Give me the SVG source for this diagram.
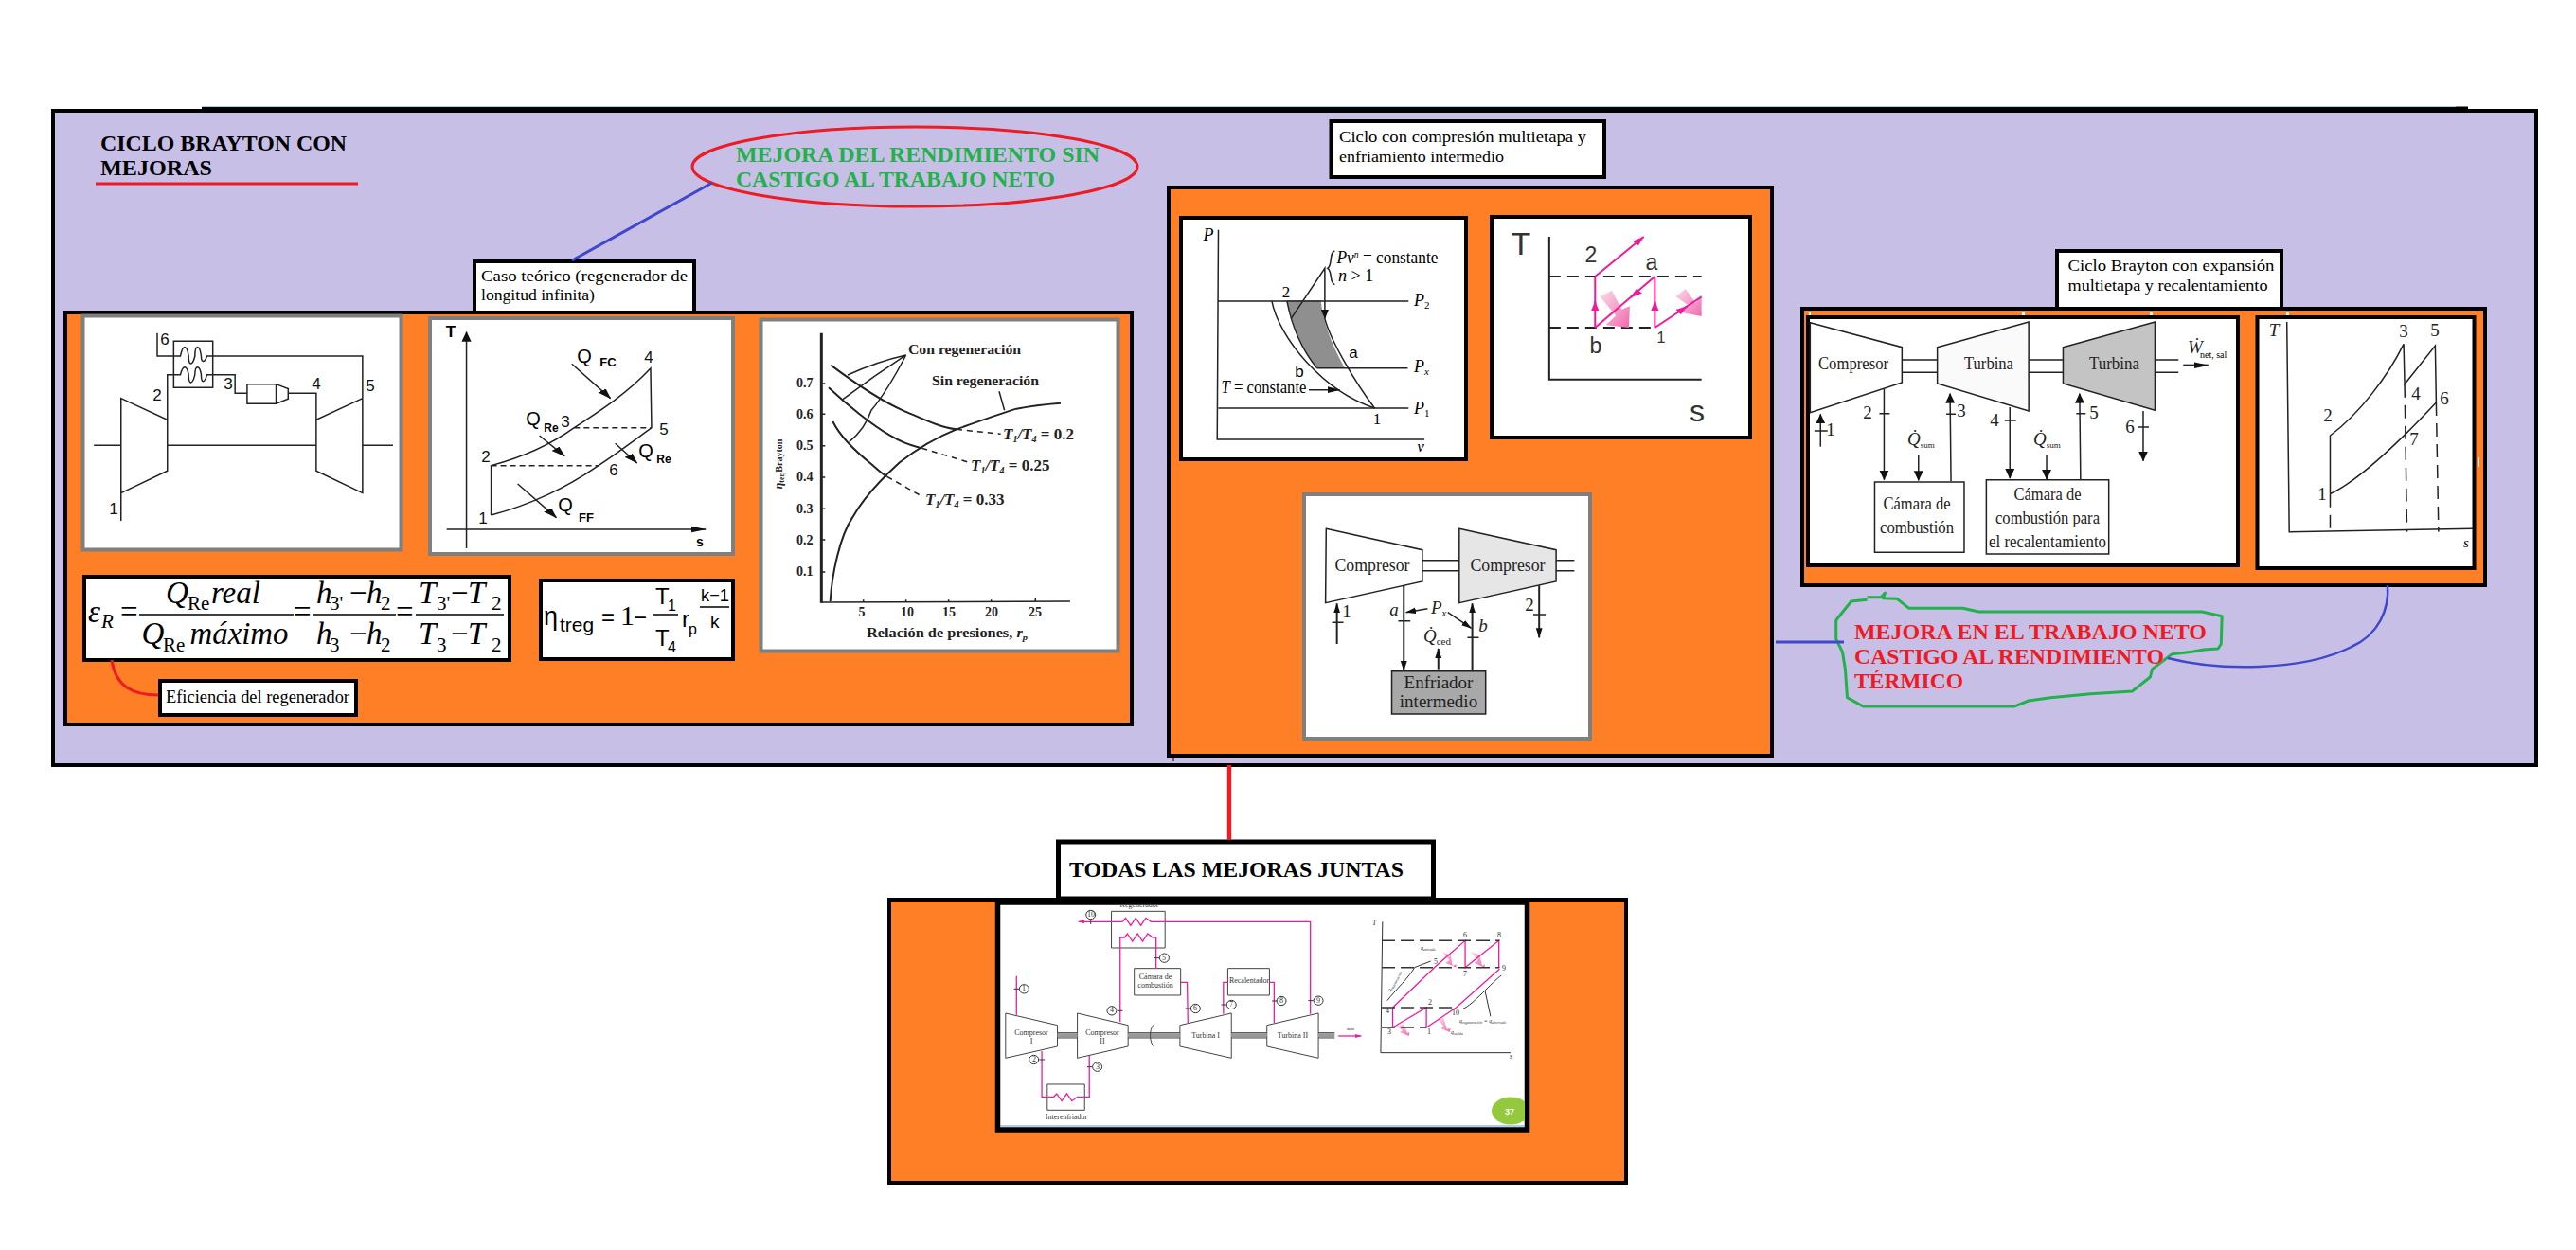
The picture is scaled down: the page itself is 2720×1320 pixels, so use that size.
<svg xmlns="http://www.w3.org/2000/svg" width="2720" height="1320" viewBox="0 0 2720 1320">
<style>
text{font-family:"Liberation Serif","Times New Roman",serif;fill:#000}
.s{font-family:"Liberation Sans",Arial,sans-serif}
.b{font-weight:bold}
.i{font-style:italic}
.l path,.l line,.l rect,.l polygon,.l polyline,.l ellipse{vector-effect:non-scaling-stroke}
.l{fill:none;stroke:#222;stroke-width:1.5}
.k{fill:#fff;stroke:#000;stroke-width:4}
.g{fill:#fff;stroke:#7f7f7f;stroke-width:4}
.o{fill:#ff7f27;stroke:#000;stroke-width:4}
.t17{font-size:17.5px}
.m{font-size:33px}
.ms{font-size:21px}
.n16{font-size:17px;fill:#111}
.c{font-size:14px;font-weight:bold;fill:#222}
.d{font-size:19px;fill:#222}
.e{font-size:8px;fill:#333}
.a{text-anchor:middle}
.dash{stroke-dasharray:14 6}
</style>
<defs>
<marker id="ar" markerUnits="userSpaceOnUse" markerWidth="34" markerHeight="24" refX="30" refY="12" orient="auto"><path d="M0,2L32,12L0,22z" fill="#111" stroke="none"/></marker>
<marker id="ap" markerUnits="userSpaceOnUse" markerWidth="34" markerHeight="24" refX="30" refY="12" orient="auto"><path d="M0,2L32,12L0,22z" fill="#ee1c9a" stroke="none"/></marker>
<marker id="as" markerUnits="userSpaceOnUse" markerWidth="18" markerHeight="14" refX="16" refY="7" orient="auto"><path d="M0,1L17,7L0,13z" fill="#ee1c9a" stroke="none"/></marker>
<linearGradient id="fade" x1="0" y1="0" x2="1" y2="1"><stop offset="0" stop-color="#fbdcea"/><stop offset="1" stop-color="#f06aae"/></linearGradient>
<clipPath id="frame"><rect x="1056" y="956" width="554" height="234"/></clipPath>
</defs>

<g id="background">
<rect x="213" y="112.500" width="2393" height="3.500" fill="#000"/>
<rect x="213" y="112" width="2380" height="1" fill="#99d9ea"/>
<rect x="56" y="117" width="2622" height="691" fill="#c8bfe7" stroke="#000" stroke-width="4"/>
</g>

<g id="title">
<text class="b" x="106" y="159" font-size="24" textLength="260" lengthAdjust="spacingAndGlyphs">CICLO BRAYTON CON</text>
<text class="b" x="106" y="185" font-size="24" textLength="118" lengthAdjust="spacingAndGlyphs">MEJORAS</text>
<line x1="101" y1="194" x2="378" y2="194" stroke="#ed1c24" stroke-width="3"/>
</g>

<g id="mejora-rendimiento">
<ellipse cx="966" cy="176" rx="235" ry="42" fill="none" stroke="#ed1c24" stroke-width="3"/>
<text class="b" x="777" y="171" font-size="24" style="fill:#22b14c" textLength="384" lengthAdjust="spacingAndGlyphs">MEJORA DEL RENDIMIENTO SIN</text>
<text class="b" x="777" y="197" font-size="24" style="fill:#22b14c" textLength="337" lengthAdjust="spacingAndGlyphs">CASTIGO AL TRABAJO NETO</text>
</g>

<g id="caso-teorico">
<rect class="k" x="501" y="276" width="232" height="60"/>
<text class="t17" x="508" y="297" textLength="218" lengthAdjust="spacingAndGlyphs">Caso teórico (regenerador de</text>
<text class="t17" x="508" y="317" textLength="120" lengthAdjust="spacingAndGlyphs">longitud infinita)</text>
<rect class="o" x="69" y="330" width="1126" height="435"/>
</g>

<g id="esquema-regenerador">
<rect class="g" x="87.500" y="333.500" width="336" height="247"/>
<g class="l" transform="translate(40,100) scale(.5102,.3333)">
<path d="M172,1350V962L268,1030V1192L172,1262M672,962L576,1030V1192L672,1262V962M116,1111H172M268,1111H576M672,1111H735"/>
<rect x="281" y="781" width="81" height="147"/>
<path d="M247,755V828H295C300,790 308,790 312,828C312,860 320,860 325,828C325,790 335,790 338,828C338,850 345,850 350,828H672V962"/>
<path d="M268,1030V887H295C300,855 308,855 312,887C312,920 320,920 325,887C325,855 335,855 338,887C338,915 345,915 350,887H408V946H433"/>
<path d="M433,917H493L518,932V964L493,979H433ZM493,917V979M518,946H576V1030"/>
</g>
<text class="s n16 a" x="174" y="364">6</text><text class="s n16 a" x="166" y="423">2</text><text class="s n16 a" x="241" y="411">3</text><text class="s n16 a" x="334" y="411">4</text><text class="s n16 a" x="391" y="413">5</text><text class="s n16 a" x="120" y="543">1</text>
</g>

<g id="diagrama-ts-regenerador">
<rect class="g" x="454" y="336" width="320" height="249"/>
<g class="l" transform="translate(40,100) scale(.5102,.3333)">
<path d="M887,1437V752" marker-end="url(#ar)"/>
<path d="M846,1377H1382" marker-end="url(#ar)"/>
<path d="M938,1332V1175C1000,1150 1060,1110 1110,1055C1170,995 1220,945 1268,867L1270,1055C1230,1100 1200,1135 1160,1175C1100,1240 1020,1300 938,1332"/>
<path d="M1110,1055H1270M938,1175H1160" stroke-dasharray="6 4"/>
<path d="M1105,853L1185,962" marker-end="url(#ar)"/>
<path d="M1038,1080L1090,1145" marker-end="url(#ar)"/>
<path d="M1195,1105L1240,1167" marker-end="url(#ar)"/>
<path d="M993,1233L1073,1340" marker-end="url(#ar)"/>
</g>
<text class="s b a" x="476" y="356" font-size="17">T</text>
<text class="s b a" x="739" y="577" font-size="14">s</text>
<text class="s a" x="617" y="383" font-size="20">Q</text><text class="s b a" x="642" y="387" font-size="13">FC</text>
<text class="s n16 a" x="685" y="383">4</text>
<text class="s a" x="563" y="449" font-size="20">Q</text><text class="s b a" x="582" y="456" font-size="12">Re</text>
<text class="s n16 a" x="597" y="451">3</text><text class="s n16 a" x="701" y="459">5</text><text class="s n16 a" x="513" y="488">2</text><text class="s n16 a" x="648" y="502">6</text>
<text class="s a" x="682" y="483" font-size="20">Q</text><text class="s b a" x="701" y="489" font-size="12">Re</text>
<text class="s a" x="597" y="540" font-size="20">Q</text><text class="s b a" x="619" y="551" font-size="13">FF</text>
<text class="s n16 a" x="510" y="553">1</text>
</g>

<g id="grafica-rendimiento">
<rect class="g" x="803.500" y="337.500" width="377" height="350"/>
<g class="l" transform="translate(780,320) scale(.3333)">
<path d="M262,95V950" stroke-width="3"/>
<path d="M262,948L1050,945M262,255h12M262,352h12M262,452h12M262,552h12M262,652h12M262,750h12M262,852h12M395,948v-8M530,948v-8M665,948v-8M800,948v-8M940,948v-12"/>
<path stroke-width="2" d="M290,945C295,860 320,740 360,680C400,610 460,550 510,505C580,450 640,420 690,400C760,375 830,350 880,335C930,325 980,320 1020,317"/>
<path stroke-width="2" d="M292,197C370,255 450,310 520,340C590,370 640,395 690,400"/>
<path stroke-width="2" d="M285,268C340,320 420,385 480,420C530,450 560,455 580,460"/>
<path stroke-width="2" d="M298,375C320,420 370,470 420,510C440,528 460,545 470,550"/>
<path stroke-dasharray="6 5" d="M690,400L830,415M580,460L730,505M470,550L585,615"/>
<path d="M530,165Q440,185 345,228M530,165Q430,230 330,305M530,165Q470,280 420,340Q400,400 350,440M825,280L842,340"/>
</g>
<text class="c" x="959" y="374" textLength="119" lengthAdjust="spacingAndGlyphs">Con regeneración</text>
<text class="c" x="984" y="407" textLength="113" lengthAdjust="spacingAndGlyphs">Sin regeneración</text>
<text class="c i" x="1059" y="464" style="font-size:17px">T<tspan font-size="10" dy="3">1</tspan><tspan dy="-3">/T</tspan><tspan font-size="10" dy="3">4</tspan><tspan dy="-3" font-style="normal"> = 0.2</tspan></text>
<text class="c i" x="1025" y="497" style="font-size:17px">T<tspan font-size="10" dy="3">1</tspan><tspan dy="-3">/T</tspan><tspan font-size="10" dy="3">4</tspan><tspan dy="-3" font-style="normal"> = 0.25</tspan></text>
<text class="c i" x="977" y="533" style="font-size:17px">T<tspan font-size="10" dy="3">1</tspan><tspan dy="-3">/T</tspan><tspan font-size="10" dy="3">4</tspan><tspan dy="-3" font-style="normal"> = 0.33</tspan></text>
<text class="c" x="841" y="409">0.7</text><text class="c" x="841" y="442">0.6</text><text class="c" x="841" y="475">0.5</text><text class="c" x="841" y="508">0.4</text><text class="c" x="841" y="542">0.3</text><text class="c" x="841" y="575">0.2</text><text class="c" x="841" y="608">0.1</text>
<text class="c a" x="910" y="651">5</text><text class="c a" x="958" y="651">10</text><text class="c a" x="1002" y="651">15</text><text class="c a" x="1047" y="651">20</text><text class="c a" x="1093" y="651">25</text>
<text class="c" x="915" y="673" textLength="170" lengthAdjust="spacingAndGlyphs">Relación de presiones, <tspan font-style="italic">r</tspan><tspan font-size="9" dy="3" font-style="italic">p</tspan></text>
<text class="c a" transform="translate(826,490) rotate(-90)" style="font-size:12px"><tspan font-style="italic">η</tspan><tspan font-size="8" dy="2">ter,</tspan><tspan dy="-2" font-size="10">Brayton</tspan></text>
</g>

<g id="formula-eficiencia">
<rect class="k" x="89" y="609" width="449" height="88"/>
<text class="m i" x="93" y="657">ε</text><text class="ms i" x="107" y="663">R</text>
<text class="m" x="127" y="657">=</text><text class="m" x="310" y="657">=</text><text class="m" x="418" y="657">=</text>
<path d="M147,649H310M331,649H418M439,649H532" stroke="#000" stroke-width="1.500"/>
<text class="m i" x="175" y="637">Q</text><text class="ms" x="198" y="644">Re</text><text class="m i" x="223" y="637">real</text>
<text class="m i" x="149.500" y="680">Q</text><text class="ms" x="172" y="688">Re</text><text class="m i" x="200.500" y="680" textLength="104" lengthAdjust="spacingAndGlyphs">máximo</text>
<text class="m i" x="334" y="637">h</text><text class="ms" x="348" y="644">3'</text><text class="m" x="369" y="637">−</text><text class="m i" x="387" y="637">h</text><text class="ms" x="402" y="644">2</text>
<text class="m i" x="334" y="680">h</text><text class="ms" x="348" y="688">3</text><text class="m" x="369" y="680">−</text><text class="m i" x="387" y="680">h</text><text class="ms" x="402" y="688">2</text>
<text class="m i" x="442" y="637">T</text><text class="ms" x="461" y="644">3'</text><text class="m" x="476" y="637">−</text><text class="m i" x="494" y="637">T</text><text class="ms" x="519" y="644">2</text>
<text class="m i" x="442" y="680">T</text><text class="ms" x="461" y="688">3</text><text class="m" x="476" y="680">−</text><text class="m i" x="494" y="680">T</text><text class="ms" x="519" y="688">2</text>
</g>

<g id="formula-rendimiento">
<rect class="k" x="571" y="613" width="203" height="83"/>
<text class="s" x="574" y="660" font-size="27">η</text><text class="s" x="591" y="667" font-size="21" textLength="36" lengthAdjust="spacingAndGlyphs">treg</text>
<text class="s" x="635" y="660" font-size="24">=</text><text x="655" y="660" style="font-size:30px">1</text><text class="s" x="669" y="660" font-size="24">−</text>
<text class="s" x="692" y="638" font-size="24">T</text><text class="s" x="705" y="645" font-size="16">1</text>
<path d="M690,649H716M739,641H770" stroke="#000" stroke-width="1.500"/>
<text class="s" x="692" y="682" font-size="24">T</text><text class="s" x="705" y="689" font-size="16">4</text>
<text class="s" x="720" y="662" font-size="24">r</text><text class="s" x="727" y="670" font-size="16">p</text>
<text class="s" x="740" y="635" font-size="19" textLength="30" lengthAdjust="spacingAndGlyphs">k−1</text><text class="s" x="750" y="663" font-size="19">k</text>
</g>

<g id="eficiencia-regenerador">
<rect class="k" x="169" y="719" width="207" height="36"/>
<text x="175" y="742" font-size="18" textLength="194" lengthAdjust="spacingAndGlyphs">Eficiencia del regenerador</text>
</g>

<g id="ciclo-compresion">
<rect class="k" x="1405.500" y="128" width="288.500" height="59"/>
<text class="t17" x="1414" y="150" textLength="261" lengthAdjust="spacingAndGlyphs">Ciclo con compresión multietapa y</text>
<text class="t17" x="1414" y="171" textLength="174" lengthAdjust="spacingAndGlyphs">enfriamiento intermedio</text>
<rect class="o" x="1234" y="198" width="637" height="600"/>
</g>

<g id="diagrama-pv">
<rect class="k" x="1247" y="230" width="301" height="255"/>
<g class="l" transform="translate(1220,110) scale(.4209,.3333)">
<path fill="#8f8f8f" stroke="none" d="M330,622L415,622C420,690 445,770 475,836L405,836C365,770 345,700 330,622Z"/>
<path d="M158,398L155,1062H675M158,624H635M405,836H633M158,963H635"/>
<path d="M292,624C310,740 420,910 550,963"/>
<path d="M425,680C440,750 500,880 550,963M330,624C345,720 375,790 405,836"/>
<path d="M340,680L425,520V680" marker-end="url(#ar)"/>
<path d="M385,905H462" marker-end="url(#ar)"/>
<path d="M450,465C435,470 445,510 432,520C445,530 435,565 450,572"/>
</g>
<text class="i" x="1276" y="254" font-size="18" text-anchor="middle">P</text>
<text x="1411.500" y="278" font-size="18" textLength="107" lengthAdjust="spacingAndGlyphs"><tspan font-style="italic">Pv</tspan><tspan font-size="10" dy="-6" font-style="italic">n</tspan><tspan dy="6"> = constante</tspan></text>
<text x="1413" y="297" font-size="18"><tspan font-style="italic">n</tspan> &gt; 1</text>
<text class="a" x="1358" y="314" font-size="17">2</text>
<text class="i" x="1493" y="323" font-size="18">P<tspan font-size="11" dy="3" font-style="normal">2</tspan></text>
<text class="i" x="1493" y="393" font-size="18">P<tspan font-size="11" dy="3">x</tspan></text>
<text class="i" x="1493" y="437" font-size="18">P<tspan font-size="11" dy="3" font-style="normal">1</tspan></text>
<text class="s a" x="1429" y="378" font-size="17">a</text><text class="s a" x="1372" y="398" font-size="17">b</text>
<text x="1289.500" y="415" font-size="18" textLength="90" lengthAdjust="spacingAndGlyphs"><tspan font-style="italic">T</tspan> = constante</text>
<text class="a" x="1454" y="448" font-size="17">1</text><text class="i a" x="1500" y="477" font-size="17">v</text>
</g>

<g id="diagrama-ts-compresion">
<rect class="k" x="1575" y="229" width="273" height="233"/>
<g class="l" transform="translate(1220,110) scale(.4209,.3333)">
<path d="M988,420V872H1370" stroke-width="2"/>
<path d="M988,546H1370M988,708H1253" stroke-width="2" stroke-dasharray="12 7"/>
<polygon fill="url(#fade)" stroke="none" points="1115,610 1145,590 1170,650 1190,640 1188,708 1130,700 1155,670"/>
<polygon fill="url(#fade)" stroke="none" points="1305,610 1330,585 1355,630 1370,605 1370,672 1320,660 1340,640"/>
<g style="stroke:#ee1c9a;stroke-width:2">
<path d="M1103,708V546"/><path d="M1253,708V546"/>
<path d="M1103,546L1225,420" marker-end="url(#ap)"/>
<path d="M1253,546L1103,708"/><path d="M1253,708L1370,610"/>
<path d="M1103,650V625" marker-end="url(#ap)"/><path d="M1253,650V625" marker-end="url(#ap)"/>
<path d="M1205,600L1192,612" marker-end="url(#ap)"/><path d="M1310,660L1335,640" marker-end="url(#ap)"/>
</g>
</g>
<text class="s a" x="1606" y="269" font-size="34" style="fill:#333">T</text>
<text class="s a" x="1680" y="277" font-size="23" style="fill:#333">2</text>
<text class="s a" x="1744" y="285" font-size="23" style="fill:#333">a</text>
<text class="s a" x="1685" y="373" font-size="23" style="fill:#333">b</text>
<text class="s a" x="1754" y="362" font-size="16" style="fill:#333">1</text>
<text class="s a" x="1792" y="445" font-size="32" style="fill:#333">s</text>
</g>

<g id="esquema-compresores">
<rect class="g" x="1377" y="522" width="302" height="258"/>
<g class="l" transform="translate(1360,500) scale(.3444,.3333)">
<polygon fill="#fff" points="117,175 412,242 412,342 115,410"/>
<polygon fill="#e6e6e6" points="525,175 822,242 822,342 525,410"/>
<path d="M412,275H525M412,308H525M822,275H878M822,308H878"/>
<path stroke-width="2" d="M150,540V412" marker-end="url(#ar)"/><path d="M135,472H170M338,467H375M550,520H585M752,447H790"/>
<path stroke-width="2" d="M355,355V624" marker-end="url(#ar)"/>
<path stroke-width="2" d="M565,625V412" marker-end="url(#ar)"/>
<path stroke-width="2" d="M770,355V520" marker-end="url(#ar)"/>
<path stroke-width="2" d="M461,620V555" marker-end="url(#ar)"/>
<path d="M428,428L362,440" marker-end="url(#ar)"/>
<path d="M490,440L562,490" marker-end="url(#ar)"/>
<rect x="318" y="626" width="288" height="136" fill="#a8a8a8"/>
</g>
<text class="d a" x="1449" y="603" textLength="79" lengthAdjust="spacingAndGlyphs">Compresor</text>
<text class="d a" x="1592" y="603" textLength="79" lengthAdjust="spacingAndGlyphs">Compresor</text>
<text class="d a" x="1422" y="652">1</text><text class="d i a" x="1472" y="650">a</text>
<text class="d i" x="1511" y="648">P<tspan font-size="11" dy="3">x</tspan></text>
<text class="d i a" x="1566" y="667">b</text><text class="d a" x="1615" y="645">2</text>
<text class="d i" x="1503" y="678">Q̇<tspan font-size="11" dy="3" font-style="normal">ced</tspan></text>
<text class="d a" x="1519" y="727">Enfriador</text><text class="d a" x="1519" y="747">intermedio</text>
</g>

<g id="ciclo-expansion">
<rect class="k" x="2172" y="265" width="237" height="62"/>
<text class="t17" x="2183.500" y="286" textLength="218" lengthAdjust="spacingAndGlyphs">Ciclo Brayton con expansión</text>
<text class="t17" x="2183.500" y="307" textLength="211" lengthAdjust="spacingAndGlyphs">multietapa y recalentamiento</text>
<rect class="o" x="1903" y="326" width="721" height="292"/>
<path d="M1910,330h2v3h-2zM2135,330h3v3h-3zM2270,330h3v3h-3zM2414,330h3v3h-3z" fill="#fff"/>
<path d="M2617,483v10" stroke="#fff" stroke-width="1.500"/>
</g>

<g id="esquema-turbinas">
<rect class="k" x="1909" y="335" width="454" height="262"/>
<g class="l" transform="translate(1880,250) scale(.4974,.3333)">
<polygon fill="#fff" points="63,272 258,350 258,462 63,557"/>
<polygon fill="#fafafa" points="333,350 527,270 527,552 333,465"/>
<polygon fill="#c4c4c4" points="600,350 795,270 795,550 600,465"/>
<path d="M258,390H333M258,430H333M527,390H600M527,430H600M795,390H845M795,430H845"/>
<path stroke-width="2" d="M855,407H908" marker-end="url(#ar)"/>
<path d="M85,665V562" marker-end="url(#ar)"/><path d="M220,482V770" marker-end="url(#ar)"/><path d="M293,690V772" marker-end="url(#ar)"/>
<path d="M362,775L360,497" marker-end="url(#ar)"/><path d="M487,540V765" marker-end="url(#ar)"/><path d="M565,690V768" marker-end="url(#ar)"/>
<path d="M637,768L635,497" marker-end="url(#ar)"/><path d="M770,552V710" marker-end="url(#ar)"/>
<path d="M72,615H100M210,560H232M352,562H372M476,582H500M628,560H648M758,603H782"/>
<rect x="200" y="777" width="190" height="223"/><rect x="437" y="770" width="260" height="235"/>
</g>
<text class="d" x="1920" y="390" textLength="74" lengthAdjust="spacingAndGlyphs">Compresor</text>
<text class="d" x="2074" y="390" textLength="52" lengthAdjust="spacingAndGlyphs">Turbina</text>
<text class="d" x="2206" y="390" textLength="53" lengthAdjust="spacingAndGlyphs">Turbina</text>
<text class="d i" x="2310" y="373">Ẇ</text><text x="2323" y="378" font-size="10">net, sal</text>
<text class="d a" x="1933" y="460">1</text><text class="d a" x="1972" y="442">2</text><text class="d a" x="2071" y="440">3</text><text class="d a" x="2106" y="450">4</text><text class="d a" x="2211" y="442">5</text><text class="d a" x="2249" y="457">6</text>
<text class="d i" x="2014" y="470">Q̇<tspan font-size="9" dy="3" font-style="normal">sum</tspan></text>
<text class="d i" x="2147" y="470">Q̇<tspan font-size="9" dy="3" font-style="normal">sum</tspan></text>
<text class="d a" x="2024" y="538" textLength="71" lengthAdjust="spacingAndGlyphs">Cámara de</text><text class="d a" x="2024" y="563" textLength="78" lengthAdjust="spacingAndGlyphs">combustión</text>
<text class="d a" x="2162" y="528" textLength="71" lengthAdjust="spacingAndGlyphs">Cámara de</text><text class="d a" x="2162" y="553" textLength="110" lengthAdjust="spacingAndGlyphs">combustión para</text><text class="d a" x="2162" y="578" textLength="124" lengthAdjust="spacingAndGlyphs">el recalentamiento</text>
</g>

<g id="diagrama-ts-expansion">
<rect class="k" x="2383.500" y="335" width="229" height="265"/>
<g class="l" transform="translate(1880,250) scale(.4974,.3333)">
<path d="M1075,270L1080,935L1470,925"/>
<path d="M1167,815V630C1230,560 1290,440 1323,340L1325,467L1390,345L1392,525C1320,640 1230,770 1167,815"/>
<path stroke-dasharray="14 8" d="M1167,815V935M1325,467L1330,935M1392,525L1397,935"/>
</g>
<text class="d i a" x="2401" y="355">T</text><text class="d a" x="2538" y="356">3</text><text class="d a" x="2571" y="355">5</text><text class="d a" x="2551" y="422">4</text><text class="d a" x="2581" y="427">6</text><text class="d a" x="2458" y="445">2</text><text class="d a" x="2549" y="470">7</text><text class="d a" x="2452" y="528">1</text><text class="i a" x="2604" y="578" font-size="15">s</text>
</g>

<g id="mejora-trabajo">
<g class="l" transform="translate(1900,600) scale(.4209,.3333)">
<path style="stroke:#22b14c;stroke-width:3" stroke-linejoin="round" d="M170,92H205L215,78L210,95L245,97L275,127H410L450,138H1010L1060,152L1058,240L1050,255L1015,258L985,265L935,272L885,320L880,345L835,390L730,398L630,410L575,420L540,438H160L120,410L115,320L108,265L92,225V165L130,105L170,100"/>
</g>
<text class="b" x="1958" y="675" font-size="24" style="fill:#ed1c24" textLength="372" lengthAdjust="spacingAndGlyphs">MEJORA EN EL TRABAJO NETO</text>
<text class="b" x="1958" y="701" font-size="24" style="fill:#ed1c24" textLength="327" lengthAdjust="spacingAndGlyphs">CASTIGO AL RENDIMIENTO</text>
<text class="b" x="1958" y="727" font-size="24" style="fill:#ed1c24" textLength="115" lengthAdjust="spacingAndGlyphs">TÉRMICO</text>
</g>

<g id="todas-las-mejoras">
<rect class="o" x="939" y="950" width="778" height="299"/>
<rect x="1117.500" y="889" width="396" height="60" fill="#fff" stroke="#000" stroke-width="5"/>
<text class="b" x="1129" y="926" font-size="24" textLength="353" lengthAdjust="spacingAndGlyphs">TODAS LAS MEJORAS JUNTAS</text>
<rect x="1053.500" y="953" width="559" height="240" fill="#fff" stroke="#000" stroke-width="5.500"/>
<g clip-path="url(#frame)">
<g class="l" transform="translate(1040,940) scale(.3827,.3333)" style="stroke:#444;stroke-width:1">
<path d="M57,390L200,428V495L57,532ZM255,390L395,428V495L255,532ZM538,428L680,390V532L538,495ZM778,428L920,390V532L778,495Z" style="fill:#fff"/>
<path d="M200,460H255M395,460H538M680,460H778M920,460H965" style="stroke:#999;stroke-width:4"/>
<path d="M200,452H255M395,452H538M680,452H778M920,452H965M200,468H255M395,468H538M680,468H778M920,468H965"/>
<path d="M467,425C450,440 455,490 467,495"/>
<rect x="349" y="67" width="148" height="116"/><rect x="412" y="248" width="128" height="85"/><rect x="670" y="248" width="115" height="85"/><rect x="172" y="615" width="103" height="82"/>
<polygon fill="url(#fade)" stroke="none" points="1260,195 1285,205 1290,240 1300,235 1300,245 1270,230 1282,222"/>
<polygon fill="url(#fade)" stroke="none" points="1340,195 1365,205 1372,240 1380,235 1378,245 1350,230 1360,222"/>
<polygon fill="url(#fade)" stroke="none" points="1135,430 1155,425 1165,452 1172,450 1170,462 1145,450 1152,445"/>
<polygon fill="url(#fade)" stroke="none" points="1250,410 1265,405 1275,440 1285,438 1282,450 1258,438 1266,432"/>
<g style="stroke:#ee1c9a;stroke-width:1.300">
<path d="M87,272V395M157,510V655H190L198,645L212,668L226,645L240,668L255,655H288V525"/>
<path d="M373,418V150H385L393,138L407,162L421,138L435,162L449,138L463,150H472V248"/>
<path d="M380,100L388,88L402,112L416,88L430,112L444,88L458,100H898V392"/>
<path d="M380,100H258" marker-end="url(#as)"/>
<path d="M540,292H558L560,420M658,392V292H670M785,292H798V420"/>
<path d="M975,462H1038" marker-end="url(#as)"/>
<path d="M1125,372L1240,245L1325,160V245L1418,160V245M1420,250L1300,372L1218,435V372L1125,435V372"/>
</g>
<g style="stroke:#333">
<ellipse cx="108" cy="313" rx="13" ry="14" style="fill:#fff"/><ellipse cx="135" cy="537" rx="13" ry="14" style="fill:#fff"/><ellipse cx="310" cy="560" rx="13" ry="14" style="fill:#fff"/><ellipse cx="350" cy="382" rx="13" ry="14" style="fill:#fff"/><ellipse cx="495" cy="215" rx="13" ry="14" style="fill:#fff"/><ellipse cx="581" cy="375" rx="13" ry="14" style="fill:#fff"/><ellipse cx="680" cy="363" rx="13" ry="14" style="fill:#fff"/><ellipse cx="818" cy="351" rx="13" ry="14" style="fill:#fff"/><ellipse cx="920" cy="350" rx="13" ry="14" style="fill:#fff"/><ellipse cx="292" cy="78" rx="13" ry="14" style="fill:#fff"/>
<path d="M80,313H95M150,537H165M282,560H296M366,382H380M465,215H482M553,375H567M652,363H666M792,351H806M892,350H906M292,92V108"/>
<path d="M1097,100L1092,515H1450"/>
<path stroke-dasharray="14 6" d="M1095,160H1420M1095,245H1420M1095,372H1300M1095,435H1218" style="stroke-width:1.500"/>
<path d="M1110,350C1130,320 1175,270 1185,245L1230,225M1320,375C1345,365 1400,290 1425,270M1380,320L1395,400"/>
</g>
</g>
<text class="e a" x="1203" y="958">Regenerador</text>
<text class="e a" x="1220" y="1034">Cámara de</text><text class="e a" x="1220" y="1043">combustión</text>
<text class="e a" x="1319" y="1038">Recalentador</text><text class="e a" x="1126" y="1182">Interenfriador</text>
<text class="e a" x="1089" y="1093">Compresor</text><text class="e a" x="1089" y="1102">I</text>
<text class="e a" x="1164" y="1093">Compresor</text><text class="e a" x="1164" y="1102">II</text>
<text class="e a" x="1273" y="1096">Turbina I</text><text class="e a" x="1365" y="1096">Turbina II</text>
<text class="e a" x="1081" y="1046">1</text><text class="e a" x="1092" y="1121">2</text><text class="e a" x="1159" y="1129">3</text><text class="e a" x="1174" y="1069">4</text><text class="e a" x="1229" y="1014">5</text><text class="e a" x="1262" y="1067">6</text><text class="e a" x="1300" y="1063">7</text><text class="e a" x="1353" y="1059">8</text><text class="e a" x="1392" y="1059">9</text><text class="e a" x="1152" y="968">10</text>
<text class="a" x="1426" y="1088" font-size="4.500">neto</text>
<text class="e i" x="1449" y="977">T</text><text class="e a" x="1547" y="990">6</text><text class="e a" x="1583" y="990">8</text>
<text class="e i" x="1500" y="1003" style="font-size:6px">q<tspan font-size="4" dy="1">entrada</tspan></text>
<text class="e a" x="1516" y="1018">5</text><text class="e a" x="1547" y="1031">7</text><text class="e a" x="1588" y="1025">9</text><text class="e a" x="1510" y="1061">2</text><text class="e a" x="1465" y="1070">4</text><text class="e a" x="1537" y="1072">10</text><text class="e a" x="1467" y="1092">3</text><text class="e a" x="1509" y="1092">1</text>
<text class="e i" x="1532" y="1092" style="font-size:6px">q<tspan font-size="4" dy="1">salida</tspan></text>
<text class="e i" x="1541" y="1080" style="font-size:6px">q<tspan font-size="4" dy="1">regeneración</tspan><tspan dy="-1"> = q</tspan><tspan font-size="4" dy="1">ahorrado</tspan></text>
<text class="e i a" transform="translate(1474,1037) rotate(-62)" style="font-size:6px">q<tspan font-size="4" dy="1">regeneración</tspan></text>
<text class="e i" x="1594" y="1118">s</text>
<ellipse cx="1595" cy="1173" rx="20" ry="14.500" fill="#94c83d"/>
<text class="s b a" x="1594" y="1177" font-size="9" style="fill:#fff">37</text>
<path d="M1056,1189H1610" stroke="#5b9bd5" stroke-width="1"/>
</g>
</g>

<g id="connectors" fill="none">
<path d="M752,193L604,275" stroke="#3f48cc" stroke-width="3"/>
<path d="M118,697C122,725 140,734 167,734" stroke="#ed1c24" stroke-width="3"/>
<path d="M1875,678H1947" stroke="#3f48cc" stroke-width="3"/>
<path d="M2289,695C2340,708 2430,710 2483,683C2512,670 2523,643 2521,618" stroke="#3f48cc" stroke-width="2.500"/>
<path d="M1298,808V887" stroke="#ed1c24" stroke-width="4.500"/>
<path d="M1239,800V804" stroke="#000" stroke-width="1"/>
</g>
</svg>
